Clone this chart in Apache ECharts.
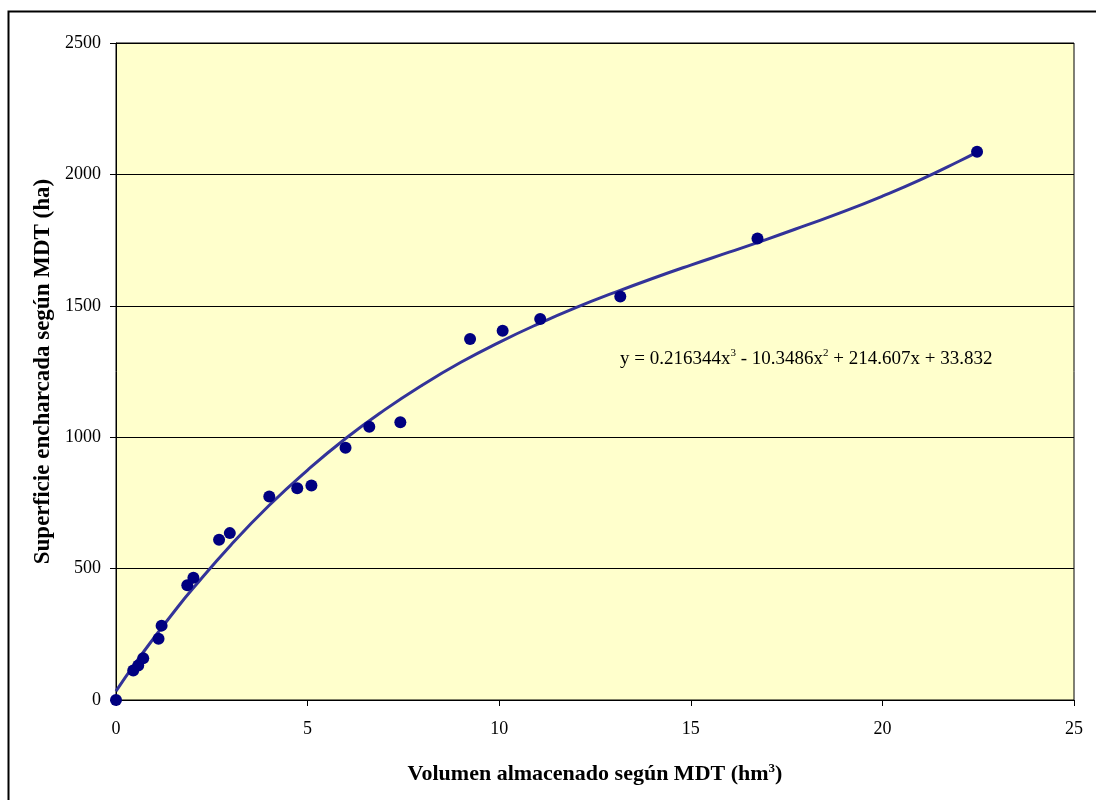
<!DOCTYPE html>
<html>
<head>
<meta charset="utf-8">
<script src="https://cdn.jsdelivr.net/npm/echarts@6/dist/echarts.min.js"></script>
<style>
html, body { margin: 0; padding: 0; background: #fff; }
#chart { width: 1096px; height: 800px; }
</style>
</head>
<body>
<div id="chart"></div>
<script>
// measured points: volumen (hm3) / superficie (ha)
var volumen = [0, 0.45, 0.58, 0.71, 1.11, 1.19, 1.86, 2.02, 2.69, 2.97, 4.00, 4.73, 5.10, 5.99, 6.61, 7.42, 9.24, 10.09, 11.07, 13.16, 16.74, 22.47];
var superficie = [0, 112, 131, 159, 233, 283, 437, 465, 610, 635, 774, 806, 816, 960, 1040, 1057, 1374, 1405, 1450, 1535, 1756, 2086];

// trend line
var curvaX = [0, 0.5, 1, 1.5, 2, 3, 4, 5, 6, 7, 8, 9, 10, 11, 12, 13, 14, 15, 16, 17, 18, 19, 20, 21, 22, 22.47];
var curvaY = [34, 139, 238, 333, 423, 590, 741, 875, 996, 1103, 1199, 1285, 1361, 1430, 1493, 1550, 1604, 1655, 1704, 1754, 1806, 1859, 1917, 1980, 2050, 2085];

var xTicks = [0, 5, 10, 15, 20, 25];
var yTicks = [0, 500, 1000, 1500, 2000, 2500];

var ecuacion = 'y = 0.216344x{s|3} - 10.3486x{s|2} + 214.607x + 33.832';

var puntos = volumen.map(function(v, i) { return [v, superficie[i]]; });
var curva = curvaX.map(function(v, i) { return [v, curvaY[i]]; });

var myChart = echarts.init(document.getElementById('chart'));
var fuente = '"Liberation Serif", "Times New Roman", serif';
var option = {
	animation : false,
	textStyle : { fontFamily : fuente },
	grid : {
		left : 116,
		right : 22,
		top : 43,
		bottom : 100,
		show : true,
		backgroundColor : '#FFFFCC',
		borderColor : '#000',
		borderWidth : 1
	},
	xAxis : {
		type : 'value',
		min : xTicks[0],
		max : xTicks[xTicks.length - 1],
		interval : 5,
		name : 'Volumen almacenado según MDT (hm{s|3})',
		nameLocation : 'middle',
		nameGap : 62,
		nameTextStyle : {
			fontFamily : fuente, fontSize : 22, fontWeight : 'bold', color : '#000',
			rich : { s : { fontSize : 13, fontWeight : 'bold', verticalAlign : 'top', padding : [0, 0, 12, 0], fontFamily : fuente } }
		},
		axisLine : { show : true, onZero : false, lineStyle : { color : '#000', width : 1 } },
		axisTick : { show : true, length : 6, lineStyle : { color : '#000' } },
		axisLabel : {
			fontFamily : fuente, fontSize : 18, color : '#000', margin : 20,
			formatter : function(v) { return String(v); }
		},
		splitLine : { show : false }
	},
	yAxis : {
		type : 'value',
		min : yTicks[0],
		max : yTicks[yTicks.length - 1],
		interval : 500,
		name : 'Superficie encharcada según MDT (ha)',
		nameLocation : 'middle',
		nameGap : 61,
		nameRotate : 90,
		nameTextStyle : { fontFamily : fuente, fontSize : 23, fontWeight : 'bold', color : '#000' },
		axisLine : { show : true, lineStyle : { color : '#000', width : 1 } },
		axisTick : { show : true, length : 6, lineStyle : { color : '#000' } },
		axisLabel : {
			fontFamily : fuente, fontSize : 18, color : '#000', margin : 15,
			formatter : function(v) { return String(v); }
		},
		splitLine : { show : true, lineStyle : { color : '#000', width : 1 } }
	},
	graphic : [
		{
			type : 'rect',
			left : 6, top : 9,
			shape : { width : 1100, height : 800 },
			style : { fill : 'none', stroke : '#000', lineWidth : 2 },
			silent : true
		},
		{
			type : 'text',
			left : 620, top : 348,
			style : {
				text : ecuacion,
				font : '19px ' + fuente,
				fill : '#000',
				rich : {
					s : { fontSize : 11, fontFamily : fuente, verticalAlign : 'top', padding : [0, 0, 11, 0] }
				}
			},
			z : 100
		}
	],
	series : [
		{
			name : 'Tendencia',
			type : 'line',
			data : curva,
			smooth : true,
			showSymbol : false,
			lineStyle : { color : '#333399', width : 3 },
			z : 2
		},
		{
			name : 'Datos',
			type : 'scatter',
			data : puntos,
			symbolSize : 12,
			itemStyle : { color : '#000080', opacity : 1 },
			z : 3
		}
	]
};
myChart.setOption(option);
</script>
</body>
</html>
